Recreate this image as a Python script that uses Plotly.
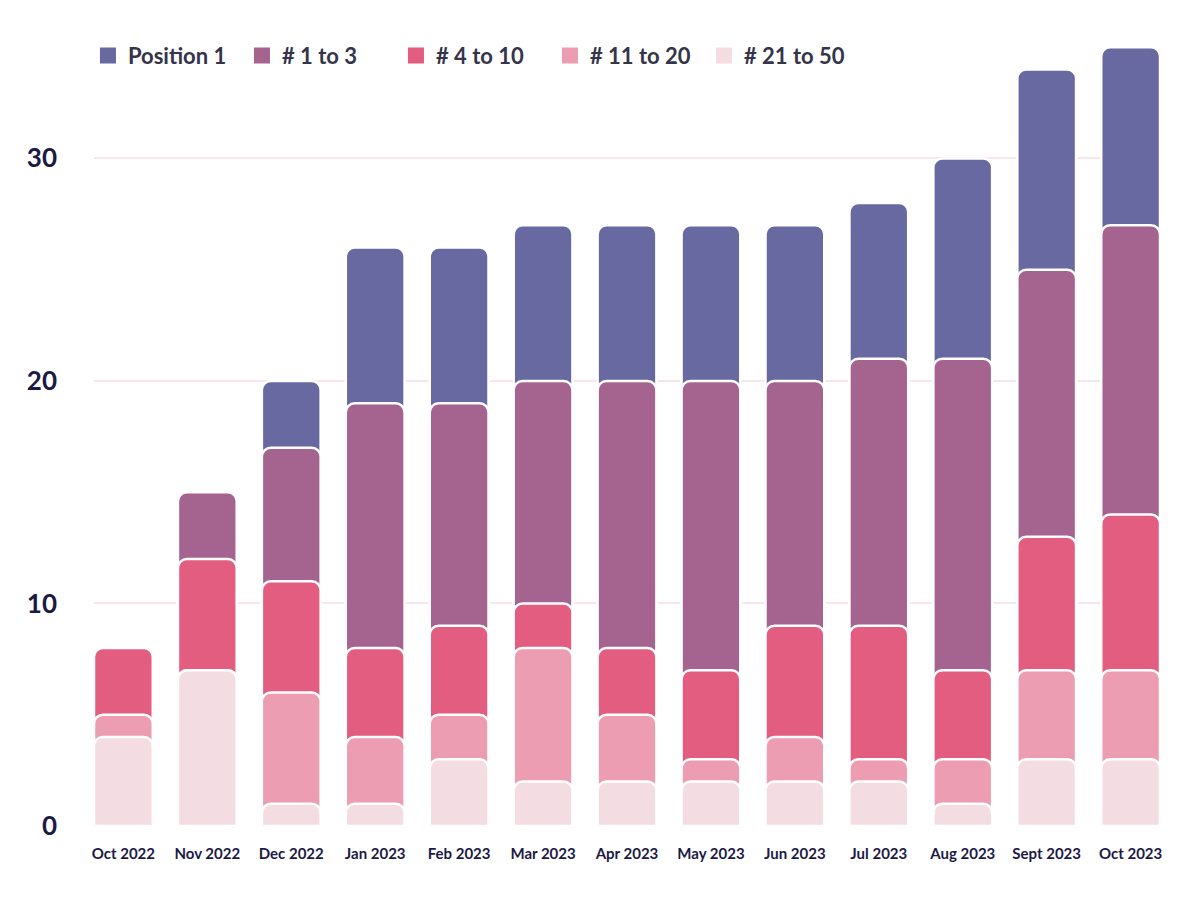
import plotly.graph_objects as go
import numpy as np

months = ["Oct 2022", "Nov 2022", "Dec 2022", "Jan 2023", "Feb 2023", "Mar 2023", "Apr 2023",
          "May 2023", "Jun 2023", "Jul 2023", "Aug 2023", "Sept 2023", "Oct 2023"]

pos_21_50 = [4, 7, 1, 1, 3, 2, 2, 2, 2, 2, 1, 3, 3]
pos_11_20 = [1, 0, 5, 3, 2, 6, 3, 1, 2, 1, 2, 4, 4]
pos_4_10  = [3, 5, 5, 4, 4, 2, 3, 4, 5, 6, 4, 6, 7]
pos_1_3   = [0, 3, 6, 11, 10, 10, 12, 13, 11, 12, 14, 12, 13]
pos_1     = [0, 0, 3, 7, 7, 7, 7, 7, 7, 7, 9, 9, 8]

series_names = ["Position 1", "# 1 to 3", "# 4 to 10", "# 11 to 20", "# 21 to 50"]
colors = ["#6869a1", "#a56390", "#e25d80", "#ec9db2", "#f4dce3"]

# stack from bottom: 21-50, 11-20, 4-10, 1-3, Position 1
bottom_up = [pos_21_50, pos_11_20, pos_4_10, pos_1_3, pos_1]
cums = np.cumsum(np.array(bottom_up), axis=0)  # cumulative tops
# draw order: Position 1 (total) first, then smaller cumulative on top
tops = [cums[4], cums[3], cums[2], cums[1], cums[0]]

FONT = "Lato"
TEXT = "#1c1a45"
XRANGE = [-0.35, 12.35]

fig = go.Figure()
for i, (name, col, top) in enumerate(zip(series_names, colors, tops)):
    xa = "x" if i == 0 else f"x{i+1}"
    fig.add_trace(go.Bar(
        x=months, y=top, name=name, showlegend=False, xaxis=xa, yaxis="y",
        marker=dict(color=col, line=dict(color="white", width=2.5), cornerradius=9),
        hoverinfo="skip",
    ))
for name, col in zip(series_names, colors):
    fig.add_trace(go.Scatter(
        x=[None], y=[None], mode="markers", name=name,
        marker=dict(symbol="square", size=18, color=col),
    ))

layout_axes = {}
for i in range(1, len(series_names)):
    layout_axes[f"xaxis{i+1}"] = dict(
        overlaying="x", matches="x", visible=False, type="category",
        categoryorder="array", categoryarray=months, range=XRANGE,
    )

fig.update_layout(
    width=1200, height=900,
    barmode="overlay", bargap=0.3,
    plot_bgcolor="white", paper_bgcolor="white",
    margin=dict(l=94, r=40, t=36, b=74, autoexpand=False),
    font=dict(family=FONT, color=TEXT),
    legend=dict(
        orientation="h", x=0.3555, y=0.975, xanchor="center", yanchor="middle",
        font=dict(family=FONT, size=22, color="#35344a", weight=700),
        itemsizing="trace", bgcolor="rgba(0,0,0,0)", traceorder="normal",
        entrywidth=109, entrywidthmode="pixels",
    ),
    xaxis=dict(
        type="category", categoryorder="array", categoryarray=months,
        range=XRANGE, showgrid=False, zeroline=False, tickangle=0,
        showline=False, ticks="", ticklabelstandoff=17,
        tickfont=dict(family=FONT, size=15, color=TEXT, weight=700),
    ),
    yaxis=dict(
        range=[0, 35.5], tickvals=[0, 10, 20, 30], showgrid=True, gridcolor="#f9e6ec",
        gridwidth=1.5, zeroline=False, showline=False, ticks="", ticklabelstandoff=36,
        tickfont=dict(family=FONT, size=26, color=TEXT, weight=700),
    ),
    **layout_axes,
)

fig.write_html("out.html")
